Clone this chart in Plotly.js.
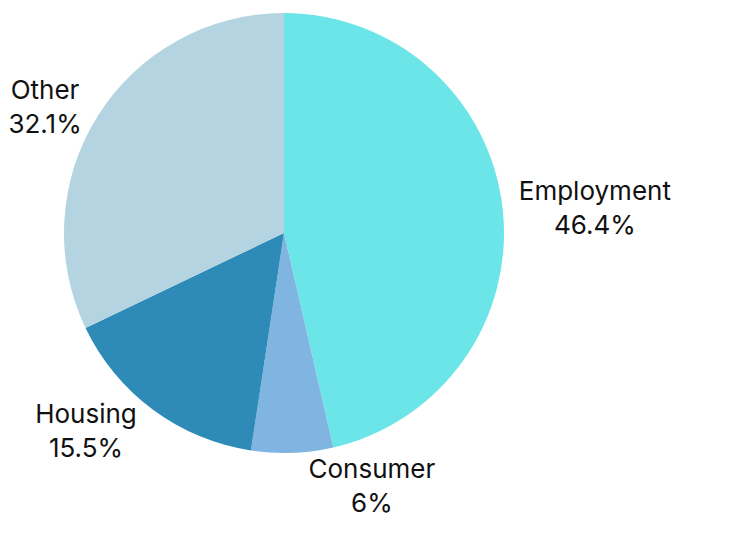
<!DOCTYPE html>
<html>
<head>
<meta charset="utf-8">
<script src="https://cdn.plot.ly/plotly-3.0.1.min.js"></script>
<style>html,body{margin:0;padding:0;background:#fff;}#chart{width:736px;height:542px;}</style>
</head>
<body>
<div id="chart"></div>
<script>
const categories = ["Employment", "Consumer", "Housing", "Other"];
const shares = [46.4, 6, 15.5, 32.1];
const colors = ["#6ce5e8", "#7fb5e0", "#2e8bb8", "#b3d4e0"];

const fontSpec = {family: "Inter, 'Noto Sans', sans-serif", size: 26, color: "#111"};

const trace = {
  type: "pie",
  labels: categories,
  values: shares,
  sort: false,
  direction: "clockwise",
  rotation: 0,
  marker: {colors: colors, line: {width: 0}},
  textposition: "outside",
  texttemplate: "%{label}<br>%{value}%",
  hoverinfo: "label+value",
  textfont: fontSpec,
  outsidetextfont: fontSpec,
  showlegend: false,
  domain: {x: [64 / 736, 504 / 736], y: [89 / 542, 529 / 542]}
};

const layout = {
  width: 736,
  height: 542,
  margin: {l: 0, r: 0, t: 0, b: 0},
  paper_bgcolor: "#fff",
  plot_bgcolor: "#fff",
  showlegend: false
};

Plotly.newPlot("chart", [trace], layout, {displayModeBar: false, staticPlot: true});
</script>
</body>
</html>
